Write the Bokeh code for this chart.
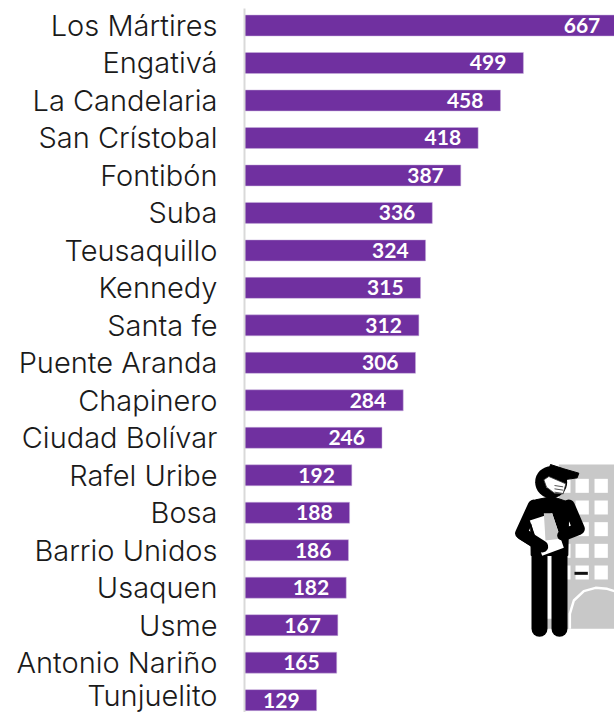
from bokeh.plotting import figure
from bokeh.embed import file_html
from bokeh.resources import INLINE
from bokeh.models import ColumnDataSource, Range1d, FixedTicker, LabelSet
from bokeh.core.properties import value

categories = ["Los Mártires", "Engativá", "La Candelaria", "San Crístobal", "Fontibón", "Suba",
              "Teusaquillo", "Kennedy", "Santa fe", "Puente Aranda", "Chapinero", "Ciudad Bolívar",
              "Rafel Uribe", "Bosa", "Barrio Unidos", "Usaquen", "Usme", "Antonio Nariño", "Tunjuelito"]
values = [667, 499, 458, 418, 387, 336, 324, 315, 312, 306, 284, 246, 192, 188, 186, 182, 167, 165, 129]
rank = list(range(len(categories)))

p = figure(width=614, height=712, output_backend="svg", toolbar_location=None,
           x_range=Range1d(0, 662), y_range=Range1d(18.33, -0.454),
           x_axis_location=None, min_border_left=244, min_border_right=0,
           min_border_top=8, min_border_bottom=0, outline_line_color=None)
p.grid.visible = False
p.background_fill_color = "white"

src = ColumnDataSource(dict(y=rank, v=values, t=[str(v) for v in values]))
p.hbar(y="y", right="v", left=0, height=0.56, source=src, fill_color="#7030A0", line_color="#c9b3dc", line_width=0.5)
p.add_layout(LabelSet(x="v", y="y", text="t", source=src, x_offset=-17, y_offset=0,
                      text_align="right", text_baseline="middle", text_color="white",
                      text_font=value("Lato"), text_font_style="bold", text_font_size="21px"))

ax = p.yaxis[0]
ax.ticker = FixedTicker(ticks=rank)
ax.major_label_overrides = {i: c for i, c in zip(rank, categories)}
ax.major_tick_line_color = None
ax.minor_tick_line_color = None
ax.axis_line_color = "#d9d9d9"
ax.axis_line_width = 2
ax.major_label_standoff = 21
ax.major_label_text_font = "Inter Light, Inter"
ax.major_label_text_font_size = "29px"
ax.major_label_text_color = "#1a1a1a"

# pictogram, drawn in page pixels on its own range
p.extra_x_ranges["px"] = Range1d(244, 614)
p.extra_y_ranges["px"] = Range1d(712, 8)
kw = dict(x_range_name="px", y_range_name="px")
def Z(pts):
    return [480 + a / 3 for a, b in pts], [440 + b / 3 for a, b in pts]

GREY = "#c8c8c8"
xs, ys = Z([(235, 72), (402, 72), (402, 565), (160, 565), (160, 535), (235, 535)])
p.patch(xs, ys, fill_color=GREY, line_color=None, **kw)
for wx in (230, 285, 342):
    for wy in (115, 180, 245, 310, 375):
        xs, ys = Z([(wx, wy), (wx + 40, wy), (wx + 40, wy + 42), (wx, wy + 42)])
        p.patch(xs, ys, fill_color="white", line_color=None, **kw)
xs, ys = Z([(282, 394), (322, 394), (322, 403), (282, 403)])
p.patch(xs, ys, fill_color="#111111", line_color=None, **kw)
# door arch
xs, ys = Z([(268, 565), (268, 520), (280, 480), (310, 452), (345, 442), (380, 445), (402, 452)])
p.line(xs, ys, line_color="white", line_width=2.5, **kw)

BLK = "#000000"
# legs
for lx in (177, 237):
    xs, ys = Z([(lx, 330), (lx, 565)])
    p.line(xs, ys, line_color=BLK, line_width=16, line_cap="round", **kw)
# torso
xs, ys = Z([(165, 178), (215, 168), (265, 185), (262, 345), (152, 345), (150, 220)])
p.patch(xs, ys, fill_color=BLK, line_color=BLK, **kw)
# arms
xs, ys = Z([(160, 195), (122, 278), (185, 318)])
p.line(xs, ys, line_color=BLK, line_width=12, line_cap="round", line_join="round", **kw)
xs, ys = Z([(265, 195), (295, 265), (245, 285)])
p.line(xs, ys, line_color=BLK, line_width=12, line_cap="round", line_join="round", **kw)
# clipboard
xs, ys = Z([(148, 240), (215, 218), (250, 322), (185, 346)])
p.patch(xs, ys, fill_color="white", line_color=None, **kw)
xs, ys = Z([(190, 218), (215, 218), (240, 295), (195, 300)])
p.patch(xs, ys, fill_color=GREY, line_color=None, **kw)
xs, ys = Z([(150, 250), (160, 290)])
p.line(xs, ys, line_color=BLK, line_width=1.5, **kw)
xs, ys = Z([(125, 280), (185, 318)])
p.line(xs, ys, line_color=BLK, line_width=12, line_cap="round", **kw)
xs, ys = Z([(295, 265), (245, 285)])
p.line(xs, ys, line_color=BLK, line_width=10, line_cap="round", **kw)
# head and cap
xs, ys = Z([(212, 125)])
p.scatter(xs, ys, size=32, marker="circle", fill_color=BLK, line_color=None, **kw)
xs, ys = Z([(210, 72), (250, 85), (295, 98), (290, 112), (250, 118), (200, 105)])
p.patch(xs, ys, fill_color=BLK, line_color=BLK, **kw)
# mask
xs, ys = Z([(190, 118), (205, 108), (256, 130), (248, 160), (222, 158), (198, 140)])
p.patch(xs, ys, fill_color="white", line_color="#333333", line_width=0.8, **kw)
for my in (135, 145, 155):
    xs, ys = Z([(222, my), (248, my + 4)])
    p.line(xs, ys, line_color="#555555", line_width=1, **kw)

open("out.html", "w").write(file_html(p, INLINE))
